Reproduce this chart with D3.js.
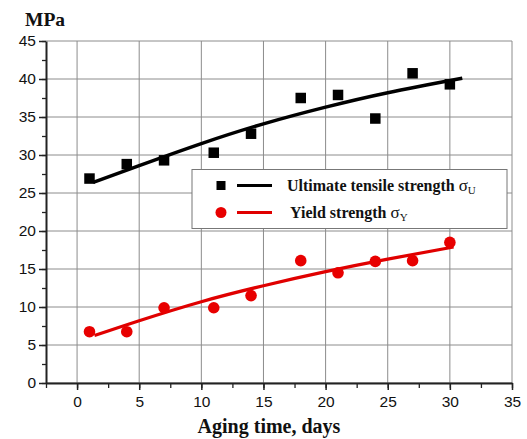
<!DOCTYPE html>
<html>
<head>
<meta charset="utf-8">
<script src="https://cdn.jsdelivr.net/npm/d3@7"></script>
<style>
  body { margin: 0; background: #fff; }
  svg { display: block; }
  .tick text { font-family: Arial, "Liberation Sans", sans-serif; font-size: 15.5px; fill: #111; }
</style>
</head>
<body>
<script>
// measured points
var days = [1, 4, 7, 11, 14, 18, 21, 24, 27, 30]
var ultimate = [26.9, 28.8, 29.3, 30.3, 32.8, 37.5, 37.9, 34.8, 40.75, 39.3]
var yieldStr = [6.75, 6.75, 9.9, 9.9, 11.5, 16.1, 14.5, 16.0, 16.1, 18.5]

// fitted curves
var fitUX = [1.3, 5, 10, 15, 20, 25, 31]
var fitUY = [26.4, 28.6, 31.5, 34.1, 36.3, 38.2, 40.1]
var fitYX = [1.4, 5, 10, 15, 20, 25, 30.3]
var fitYY = [6.25, 8.2, 10.7, 12.8, 14.65, 16.3, 17.9]

var xTicks = [0, 5, 10, 15, 20, 25, 30, 35]
var yTicks = [0, 5, 10, 15, 20, 25, 30, 35, 40, 45]

var W = 527, H = 439
var margin = {top: 41, right: 15, bottom: 56, left: 46}
var width = W - margin.left - margin.right,
    height = H - margin.top - margin.bottom

var svg = d3.select('body').append('svg')
  .attr('width', W)
  .attr('height', H)

var g = svg.append('g').attr('transform', 'translate(' + margin.left + ',' + margin.top + ')')

var x = d3.scaleLinear().domain([-2.5, 35]).range([0, width])
var y = d3.scaleLinear().domain([0, 45]).range([height, 0])

// grid
g.append('g').selectAll('line')
  .data(xTicks)
  .enter().append('line')
  .attr('x1', d => x(d)).attr('x2', d => x(d))
  .attr('y1', 0).attr('y2', height)
  .attr('stroke', '#8c8c8c').attr('stroke-width', 1)

g.append('g').selectAll('line')
  .data(yTicks)
  .enter().append('line')
  .attr('x1', 0).attr('x2', width)
  .attr('y1', d => y(d)).attr('y2', d => y(d))
  .attr('stroke', '#8c8c8c').attr('stroke-width', 1)

// minor ticks
var xMinor = d3.range(-2.5, 35.1, 2.5)
var yMinor = d3.range(0, 45.1, 2.5)

g.append('g')
  .attr('transform', 'translate(0,' + height + ')')
  .call(d3.axisBottom(x).tickValues(xMinor).tickSize(5).tickFormat(''))
  .call(a => a.select('.domain').remove())
  .selectAll('line').attr('stroke', '#222').attr('stroke-width', 1.3)

g.append('g')
  .call(d3.axisLeft(y).tickValues(yMinor).tickSize(4).tickFormat(''))
  .call(a => a.select('.domain').remove())
  .selectAll('line').attr('stroke', '#222').attr('stroke-width', 1.3)

// major axes
var xAxis = g.append('g')
  .attr('transform', 'translate(0,' + height + ')')
  .call(d3.axisBottom(x).tickValues(xTicks).tickSize(7).tickSizeOuter(0).tickPadding(6))
xAxis.select('.domain').attr('stroke', '#222').attr('stroke-width', 2)
xAxis.selectAll('line').attr('stroke', '#222').attr('stroke-width', 1.5)

var yAxis = g.append('g')
  .call(d3.axisLeft(y).tickValues(yTicks).tickSize(7).tickSizeOuter(0).tickPadding(3))
yAxis.select('.domain').attr('stroke', '#222').attr('stroke-width', 2)
yAxis.selectAll('line').attr('stroke', '#222').attr('stroke-width', 1.5)

// fit lines
var line = d3.line()
  .curve(d3.curveNatural)
  .x(d => x(d[0]))
  .y(d => y(d[1]))

g.append('path')
  .datum(d3.zip(fitUX, fitUY))
  .attr('fill', 'none')
  .attr('stroke', '#000')
  .attr('stroke-width', 3.5)
  .attr('d', line)

g.append('path')
  .datum(d3.zip(fitYX, fitYY))
  .attr('fill', 'none')
  .attr('stroke', '#e00000')
  .attr('stroke-width', 3.2)
  .attr('d', line)

// markers
var sq = 10.5
g.selectAll('.sq')
  .data(d3.zip(days, ultimate))
  .enter().append('rect')
  .attr('class', 'sq')
  .attr('x', d => x(d[0]) - sq / 2)
  .attr('y', d => y(d[1]) - sq / 2)
  .attr('width', sq).attr('height', sq)
  .attr('fill', '#000')

g.selectAll('.dot')
  .data(d3.zip(days, yieldStr))
  .enter().append('circle')
  .attr('class', 'dot')
  .attr('cx', d => x(d[0]))
  .attr('cy', d => y(d[1]))
  .attr('r', 5.8)
  .attr('fill', '#e80000')

// legend
var legend = svg.append('g').attr('transform', 'translate(192,169.5)')
legend.append('rect')
  .attr('width', 315).attr('height', 59)
  .attr('fill', '#fff')
  .attr('stroke', '#777').attr('stroke-width', 1)

var items = [
  {name: 'Ultimate tensile strength ', sub: 'U', color: '#000', shape: 'square', dy: 16, tx: 95},
  {name: 'Yield strength ', sub: 'Y', color: '#e00000', shape: 'circle', dy: 43, tx: 98}
]

items.forEach(it => {
  var row = legend.append('g').attr('transform', 'translate(0,' + it.dy + ')')
  if (it.shape === 'square') {
    row.append('rect').attr('x', 24.5).attr('y', -4.5).attr('width', 9).attr('height', 9).attr('fill', it.color)
  } else {
    row.append('circle').attr('cx', 29).attr('cy', 0).attr('r', 5.5).attr('fill', '#e80000')
  }
  row.append('line')
    .attr('x1', 45).attr('x2', 80)
    .attr('stroke', it.color).attr('stroke-width', 3.2)
  var t = row.append('text')
    .attr('x', it.tx).attr('y', 5)
    .style('font-family', '"Liberation Serif", "Times New Roman", serif')
    .style('font-weight', 'bold')
    .style('font-size', '16px')
    .attr('fill', '#111')
  t.append('tspan').text(it.name)
  t.append('tspan').text('σ').style('font-weight', 'normal').style('font-size', '17px')
  t.append('tspan').text(it.sub).attr('dy', 3).style('font-weight', 'normal').style('font-size', '11px')
})

// axis titles
svg.append('text')
  .attr('x', 25).attr('y', 26)
  .style('font-family', '"Liberation Serif", "Times New Roman", serif')
  .style('font-weight', 'bold')
  .style('font-size', '19.5px')
  .attr('fill', '#111')
  .text('MPa')

svg.append('text')
  .attr('x', 269).attr('y', 433)
  .attr('text-anchor', 'middle')
  .style('font-family', '"Liberation Serif", "Times New Roman", serif')
  .style('font-weight', 'bold')
  .style('font-size', '20px')
  .attr('fill', '#111')
  .text('Aging time, days')
</script>
</body>
</html>
